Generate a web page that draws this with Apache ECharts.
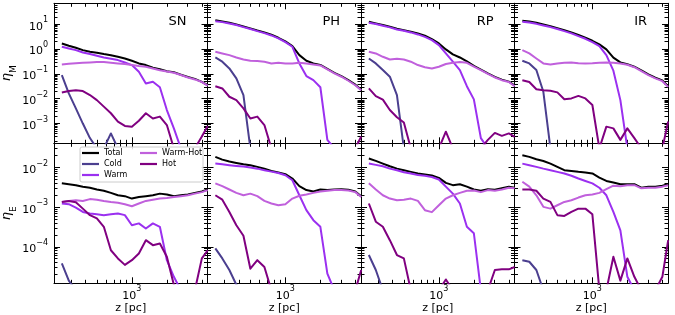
<!DOCTYPE html>
<html><head><meta charset="utf-8">
<script src="https://cdn.jsdelivr.net/npm/echarts@6/dist/echarts.min.js"></script>
<style>html,body{margin:0;padding:0;background:#fff}#c{width:675px;height:315px}</style>
</head><body><div id="c"></div>
<script>
// ---- data ----
const Z = [251, 288, 331, 380, 437, 501, 575, 661, 759, 871, 1000, 1148, 1318, 1514, 1738, 1995, 2291, 2630, 3020, 3467, 3981, 4467];
const PANELS = ['SN', 'PH', 'RP', 'IR'];
const SERIES = ['Total', 'Cold', 'Warm', 'Warm-Hot', 'Hot'];
const COLORS = ['#000000', '#4b3f8f', '#9b30f0', '#c060dc', '#800080'];
const X_MAJOR = [1000];
const X_MINOR = [300, 400, 500, 600, 700, 800, 900, 2000, 3000, 4000];
const YM_MAJOR = [1e-3, 1e-2, 1e-1, 1, 10];
const YE_MAJOR = [1e-4, 1e-3, 1e-2];
const X_RANGE = [215, 4450];
const YM_RANGE = [1.6e-4, 70];
const YE_RANGE = [1.2e-5, 0.041];

// eta_M (top row)
const SN_M_total = [1.69, 1.36, 1.13, 0.91, 0.78, 0.71, 0.63, 0.57, 0.49, 0.42, 0.34, 0.265, 0.227, 0.177, 0.155, 0.128, 0.116, 0.093, 0.075, 0.063, 0.048, 0.035];
const SN_M_cold = [0.09, 0.0164, 0.0041, 0.001, 0.00026, 1e-4, 1e-4, 4e-4, 1e-4, 1e-4, 1e-4, 1e-4, 1e-4, 1e-4, 1e-4, 1e-4, 1e-4, 1e-4, 1e-4, 1e-4, 1e-4, 1e-4];
const SN_M_warm = [1.24, 1.06, 0.91, 0.73, 0.63, 0.54, 0.46, 0.41, 0.36, 0.29, 0.227, 0.122, 0.041, 0.048, 0.029, 0.0035, 0.00064, 1e-4, 1e-4, 1e-4, 1e-4, 1e-4];
const SN_M_warmhot = [0.24, 0.256, 0.27, 0.28, 0.29, 0.30, 0.30, 0.28, 0.265, 0.25, 0.227, 0.207, 0.195, 0.166, 0.14, 0.125, 0.112, 0.090, 0.072, 0.06, 0.047, 0.034];
const SN_M_hot = [0.018, 0.0204, 0.022, 0.0204, 0.0141, 0.0088, 0.0048, 0.0026, 0.0012, 0.0008, 0.00075, 0.0013, 0.0026, 0.0016, 0.0019, 0.00087, 1e-4, 1e-4, 1e-4, 1e-4, 0.0003, 0.0008];

const PH_M_total = [14.7, 13.0, 11.5, 9.8, 8.2, 6.8, 5.6, 4.7, 3.8, 2.86, 2.04, 1.32, 0.57, 0.34, 0.265, 0.23, 0.16, 0.11, 0.081, 0.056, 0.037, 0.023];
const PH_M_cold = [0.46, 0.31, 0.166, 0.066, 0.0141, 1e-4, 1e-4, 1e-4, 1e-4, 1e-4, 1e-4, 1e-4, 1e-4, 1e-4, 1e-4, 1e-4, 1e-4, 1e-4, 1e-4, 1e-4, 1e-4, 1e-4];
const PH_M_warm = [13.3, 12.2, 10.8, 9.3, 7.7, 6.4, 5.3, 4.4, 3.55, 2.7, 1.91, 1.24, 0.265, 0.082, 0.056, 0.029, 0.00022, 1e-4, 1e-4, 1e-4, 1e-4, 1e-4];
const PH_M_warmhot = [0.78, 0.67, 0.57, 0.46, 0.38, 0.34, 0.33, 0.31, 0.265, 0.28, 0.265, 0.265, 0.28, 0.265, 0.24, 0.22, 0.152, 0.105, 0.077, 0.053, 0.035, 0.022];
const PH_M_hot = [0.032, 0.026, 0.012, 0.0088, 0.0041, 0.0016, 0.0019, 0.00087, 1e-4, 1e-4, 1e-4, 1e-4, 1e-4, 1e-4, 1e-4, 1e-4, 1e-4, 1e-4, 1e-4, 1e-4, 1e-4, 0.0003];

const RP_M_total = [12.6, 10.8, 9.3, 7.9, 6.6, 5.8, 5.0, 4.3, 3.45, 2.53, 1.69, 0.97, 0.61, 0.46, 0.32, 0.21, 0.15, 0.105, 0.076, 0.059, 0.049, 0.034];
const RP_M_cold = [0.42, 0.265, 0.143, 0.077, 0.0141, 1e-4, 1e-4, 1e-4, 1e-4, 1e-4, 1e-4, 1e-4, 1e-4, 1e-4, 1e-4, 1e-4, 1e-4, 1e-4, 1e-4, 1e-4, 1e-4, 1e-4];
const RP_M_warm = [11.5, 10.2, 8.7, 7.5, 6.2, 5.5, 4.7, 3.9, 3.1, 2.3, 1.45, 0.67, 0.31, 0.143, 0.032, 0.0094, 0.00026, 1e-4, 1e-4, 1e-4, 1e-4, 1e-4];
const RP_M_warmhot = [0.78, 0.67, 0.49, 0.38, 0.41, 0.38, 0.31, 0.227, 0.186, 0.166, 0.195, 0.25, 0.28, 0.30, 0.28, 0.195, 0.143, 0.10, 0.072, 0.056, 0.047, 0.032];
const RP_M_hot = [0.026, 0.0127, 0.0092, 0.0035, 0.0018, 0.0011, 1e-4, 1e-4, 1e-4, 1e-4, 1e-4, 0.00047, 1e-4, 1e-4, 1e-4, 1e-4, 1e-4, 0.00022, 0.00042, 0.00032, 0.0004, 0.00029];

const IR_M_total = [13.8, 13.0, 11.5, 9.8, 8.4, 7.0, 5.8, 4.7, 3.7, 2.86, 2.16, 1.54, 0.97, 0.45, 0.29, 0.245, 0.195, 0.14, 0.095, 0.07, 0.055, 0.032];
const IR_M_cold = [0.34, 0.265, 0.143, 0.019, 1e-4, 1e-4, 1e-4, 1e-4, 1e-4, 1e-4, 1e-4, 1e-4, 1e-4, 1e-4, 1e-4, 1e-4, 1e-4, 1e-4, 1e-4, 1e-4, 1e-4, 1e-4];
const IR_M_warm = [12.6, 11.8, 10.4, 9.0, 7.7, 6.4, 5.3, 4.3, 3.35, 2.6, 1.91, 1.32, 0.57, 0.135, 0.0088, 1e-4, 1e-4, 1e-4, 1e-4, 1e-4, 1e-4, 1e-4];
const IR_M_warmhot = [0.91, 0.67, 0.42, 0.265, 0.24, 0.265, 0.28, 0.29, 0.27, 0.265, 0.27, 0.28, 0.29, 0.28, 0.265, 0.234, 0.186, 0.13, 0.09, 0.066, 0.051, 0.030];
const IR_M_hot = [0.056, 0.047, 0.024, 0.022, 0.021, 0.018, 0.0095, 0.0103, 0.013, 0.0103, 0.0056, 1e-4, 0.00075, 0.00064, 0.00022, 0.00064, 0.00026, 1e-4, 1e-4, 1e-4, 1e-4, 0.0012];

// eta_E (bottom row)
const SN_E_total = [0.004, 0.0038, 0.0036, 0.0033, 0.0031, 0.0028, 0.0026, 0.0023, 0.002, 0.0019, 0.00165, 0.0018, 0.0019, 0.002, 0.0022, 0.0021, 0.0019, 0.002, 0.0021, 0.0023, 0.0025, 0.0028];
const SN_E_cold = [3.8e-5, 1.4e-5, 8e-6, 8e-6, 8e-6, 8e-6, 8e-6, 8e-6, 8e-6, 8e-6, 8e-6, 8e-6, 8e-6, 8e-6, 8e-6, 8e-6, 8e-6, 8e-6, 8e-6, 8e-6, 8e-6, 8e-6];
const SN_E_warm = [0.00124, 0.00119, 0.00098, 0.00076, 0.00069, 0.00066, 0.00063, 0.00066, 0.00069, 0.00063, 0.00035, 0.00039, 0.00029, 0.00039, 0.00032, 4.6e-5, 1.75e-5, 8e-6, 8e-6, 8e-6, 8e-6, 8e-6];
const SN_E_warmhot = [0.00136, 0.00144, 0.0015, 0.00144, 0.0016, 0.00155, 0.00144, 0.00136, 0.0013, 0.00119, 0.00106, 0.00124, 0.00144, 0.00155, 0.00165, 0.0017, 0.0018, 0.0019, 0.0020, 0.0022, 0.0024, 0.0027];
const SN_E_hot = [0.00136, 0.00144, 0.00133, 0.00092, 0.00063, 0.00052, 0.00032, 8.2e-5, 5.1e-5, 3.5e-5, 4.6e-5, 6.8e-5, 0.000147, 0.00011, 0.000121, 5.6e-5, 1.1e-5, 8e-6, 8e-6, 8e-6, 5.1e-5, 8.2e-5];

const PH_E_total = [0.0186, 0.0159, 0.0142, 0.0131, 0.0121, 0.0115, 0.0104, 0.0093, 0.0082, 0.0075, 0.0068, 0.0053, 0.0034, 0.0027, 0.0025, 0.0028, 0.0027, 0.0028, 0.00285, 0.00275, 0.0025, 0.0019];
const PH_E_cold = [9.1e-5, 5.1e-5, 2.6e-5, 1.1e-5, 8e-6, 8e-6, 8e-6, 8e-6, 8e-6, 8e-6, 8e-6, 8e-6, 8e-6, 8e-6, 8e-6, 8e-6, 8e-6, 8e-6, 8e-6, 8e-6, 8e-6, 8e-6];
const PH_E_warm = [0.0126, 0.0121, 0.0115, 0.011, 0.0106, 0.01, 0.0094, 0.0086, 0.0079, 0.0073, 0.0064, 0.0048, 0.002, 0.00084, 0.00047, 0.00032, 2.1e-5, 8e-6, 8e-6, 8e-6, 8e-6, 8e-6];
const PH_E_warmhot = [0.004, 0.0034, 0.0028, 0.0023, 0.002, 0.0022, 0.0019, 0.00144, 0.00124, 0.00112, 0.00119, 0.00165, 0.00195, 0.0021, 0.0023, 0.0025, 0.0026, 0.0027, 0.0027, 0.00265, 0.0024, 0.0018];
const PH_E_hot = [0.002, 0.00155, 0.00076, 0.00035, 0.00019, 2.8e-5, 4.6e-5, 3.1e-5, 8e-6, 8e-6, 8e-6, 8e-6, 8e-6, 8e-6, 8e-6, 8e-6, 8e-6, 8e-6, 8e-6, 8e-6, 8e-6, 2.6e-5];

const RP_E_total = [0.0169, 0.0148, 0.0126, 0.0108, 0.0094, 0.0086, 0.0078, 0.0071, 0.0067, 0.0063, 0.0055, 0.0041, 0.0036, 0.0038, 0.0033, 0.0028, 0.0026, 0.00285, 0.00275, 0.003, 0.0033, 0.0031];
const RP_E_cold = [6.2e-5, 2.6e-5, 8e-6, 8e-6, 8e-6, 8e-6, 8e-6, 8e-6, 8e-6, 8e-6, 8e-6, 8e-6, 8e-6, 8e-6, 8e-6, 8e-6, 8e-6, 8e-6, 8e-6, 8e-6, 8e-6, 8e-6];
const RP_E_warm = [0.0126, 0.0117, 0.0108, 0.0094, 0.0086, 0.0076, 0.0071, 0.0065, 0.0062, 0.0058, 0.005, 0.0033, 0.0022, 0.00124, 0.00032, 0.00022, 8e-6, 8e-6, 8e-6, 8e-6, 8e-6, 8e-6];
const RP_E_warmhot = [0.004, 0.0028, 0.002, 0.00165, 0.0015, 0.00155, 0.00165, 0.00144, 0.00084, 0.00075, 0.00112, 0.00165, 0.002, 0.0023, 0.0026, 0.00265, 0.0024, 0.0027, 0.0026, 0.0028, 0.0031, 0.003];
const RP_E_hot = [0.00124, 0.00043, 0.00032, 0.000147, 6.2e-5, 5.1e-5, 8e-6, 8e-6, 8e-6, 8e-6, 8e-6, 1.5e-5, 8e-6, 8e-6, 8e-6, 8e-6, 8e-6, 8e-6, 2.6e-5, 2.7e-5, 2.7e-5, 3.1e-5];

const IR_E_total = [0.0205, 0.0186, 0.0162, 0.0147, 0.0126, 0.0104, 0.0086, 0.0082, 0.0078, 0.0075, 0.0071, 0.0056, 0.0046, 0.0042, 0.0038, 0.0038, 0.0038, 0.0031, 0.0033, 0.0033, 0.0035, 0.0038];
const IR_E_cold = [4.6e-5, 4.2e-5, 2.6e-5, 8e-6, 8e-6, 8e-6, 8e-6, 8e-6, 8e-6, 8e-6, 8e-6, 8e-6, 8e-6, 8e-6, 8e-6, 8e-6, 8e-6, 8e-6, 8e-6, 8e-6, 8e-6, 8e-6];
const IR_E_warm = [0.0126, 0.0115, 0.0104, 0.0094, 0.0086, 0.0078, 0.0071, 0.0062, 0.0053, 0.0046, 0.004, 0.0031, 0.002, 0.00076, 0.00026, 1.75e-5, 8e-6, 8e-6, 8e-6, 8e-6, 8e-6, 8e-6];
const IR_E_warmhot = [0.0044, 0.0033, 0.002, 0.00102, 0.00092, 0.00112, 0.00136, 0.0015, 0.00175, 0.002, 0.0021, 0.0023, 0.00285, 0.0035, 0.0034, 0.0036, 0.0036, 0.003, 0.0031, 0.0031, 0.0033, 0.0036];
const IR_E_hot = [0.0028, 0.0028, 0.0026, 0.00165, 0.00136, 0.00063, 0.0006, 0.00076, 0.00092, 0.00092, 0.00066, 8e-6, 8e-6, 5.6e-5, 1.4e-5, 5.1e-5, 1.75e-5, 8e-6, 8e-6, 8e-6, 1.75e-5, 0.000147];

const ROWS = [
  [[SN_M_total, SN_M_cold, SN_M_warm, SN_M_warmhot, SN_M_hot],
   [PH_M_total, PH_M_cold, PH_M_warm, PH_M_warmhot, PH_M_hot],
   [RP_M_total, RP_M_cold, RP_M_warm, RP_M_warmhot, RP_M_hot],
   [IR_M_total, IR_M_cold, IR_M_warm, IR_M_warmhot, IR_M_hot]],
  [[SN_E_total, SN_E_cold, SN_E_warm, SN_E_warmhot, SN_E_hot],
   [PH_E_total, PH_E_cold, PH_E_warm, PH_E_warmhot, PH_E_hot],
   [RP_E_total, RP_E_cold, RP_E_warm, RP_E_warmhot, RP_E_hot],
   [IR_E_total, IR_E_cold, IR_E_warm, IR_E_warmhot, IR_E_hot]]
];

// ---- layout ----
const FONT = 'DejaVu Sans';
const GL = [54, 207.5, 361, 514.5], GW = 153.5;
const GT = [3.3, 143.3], GH = 140;

function minorTicks(range) {
  const out = [];
  for (let d = -6; d <= 2; d++) for (let k = 2; k <= 9; k++) {
    const v = k * Math.pow(10, d);
    if (v > range[0] && v < range[1]) out.push(v);
  }
  return out;
}
function powLabel(v) {
  const e = Math.round(Math.log10(v));
  return '{b|10}{s|' + (e < 0 ? '\u2212' + (-e) : e) + '}';
}
const RICH = {
  b: { fontSize: 11, fontFamily: FONT, color: '#000', lineHeight: 16, verticalAlign: 'bottom' },
  s: { fontSize: 8, fontFamily: FONT, color: '#000', lineHeight: 8, verticalAlign: 'top' }
};

const grids = [], xAxes = [], yAxes = [], series = [], graphics = [];
for (let r = 0; r < 2; r++) {
  const yr = r === 0 ? YM_RANGE : YE_RANGE;
  const yMaj = r === 0 ? YM_MAJOR : YE_MAJOR;
  const yMin = minorTicks(yr);
  for (let c = 0; c < 4; c++) {
    const g = r * 4 + c;
    grids.push({ left: GL[c], top: GT[r], width: GW, height: GH, containLabel: false, outerBoundsMode: 'none' });
    const xi = xAxes.length, yi = yAxes.length;
    [['bottom', true], ['bottom', false], ['top', true], ['top', false]].forEach(([pos, major]) => {
      const isLab = pos === 'bottom' && major && r === 1;
      xAxes.push({
        type: 'log', logBase: 10, gridIndex: g, position: pos, min: X_RANGE[0], max: X_RANGE[1],
        axisLine: { show: major, lineStyle: { color: '#000', width: 1 } },
        axisTick: { show: true, inside: true, length: major ? 6 : 3.5, lineStyle: { color: '#000', width: 1 }, customValues: major ? X_MAJOR : X_MINOR },
        axisLabel: { show: isLab, customValues: X_MAJOR, formatter: powLabel, rich: RICH, margin: 2 },
        splitLine: { show: false }, minorTick: { show: false }, minorSplitLine: { show: false },
        name: isLab ? 'z [pc]' : '', nameLocation: 'middle', nameGap: 19,
        nameTextStyle: { fontSize: 11, fontFamily: FONT, color: '#000' }
      });
    });
    [['left', true], ['left', false], ['right', true], ['right', false]].forEach(([pos, major]) => {
      const isLab = pos === 'left' && major && c === 0;
      yAxes.push({
        type: 'log', logBase: 10, gridIndex: g, position: pos, min: yr[0], max: yr[1],
        axisLine: { show: major, lineStyle: { color: '#000', width: 1 } },
        axisTick: { show: true, inside: true, length: major ? 6 : 3.5, lineStyle: { color: '#000', width: 1 }, customValues: major ? yMaj : yMin },
        axisLabel: { show: isLab, customValues: yMaj, formatter: powLabel, rich: RICH, margin: 6 },
        splitLine: { show: false }, minorTick: { show: false }, minorSplitLine: { show: false },
        name: isLab ? (r === 0 ? '{e|\u03b7}{m|M}' : '{e|\u03b7}{m|E}') : '',
        nameLocation: 'middle', nameGap: 31, nameRotate: 90,
        nameTextStyle: { rich: {
          e: { fontSize: 13, fontFamily: FONT, fontStyle: 'italic', color: '#000', lineHeight: 14, verticalAlign: 'top' },
          m: { fontSize: 9, fontFamily: FONT, color: '#000', lineHeight: 18, verticalAlign: 'bottom' } } }
      });
    });
    const vals = ROWS[r][c];
    SERIES.forEach((nm, k) => {
      series.push({
        type: 'line', name: nm, xAxisIndex: xi, yAxisIndex: yi,
        data: Z.map((z, i) => [z, vals[k][i]]),
        symbol: 'none', showSymbol: false, clip: true, silent: true,
        lineStyle: { width: 2, color: COLORS[k], join: 'round' },
        itemStyle: { color: COLORS[k] }
      });
    });
    if (r === 0) {
      graphics.push({ type: 'text', x: GL[c] + GW - 21, y: 22, z: 10,
        style: { text: PANELS[c], font: '13px "DejaVu Sans"', fill: '#000', textAlign: 'right', textVerticalAlign: 'middle' } });
    }
  }
}
graphics.push({ type: 'rect', z: 3, shape: { x: 80, y: 147, width: 123, height: 35, r: 2 },
  style: { fill: 'rgba(255,255,255,0.85)', stroke: '#cccccc', lineWidth: 1 } });

const legendBase = {
  orient: 'vertical', itemWidth: 17, itemHeight: 8, itemGap: 3, padding: 0, z: 5,
  icon: 'path://M0,0H17V2.2H0Z', symbolKeepAspect: true,
  textStyle: { fontSize: 8, fontFamily: FONT, color: '#000' }, selectedMode: false
};
const chart = echarts.init(document.getElementById('c'), null, { renderer: 'canvas' });
chart.setOption({
  animation: false,
  backgroundColor: '#fff',
  grid: grids, xAxis: xAxes, yAxis: yAxes, series: series, graphic: graphics,
  legend: [
    Object.assign({}, legendBase, { left: 82, top: 149, data: ['Total', 'Cold', 'Warm'] }),
    Object.assign({}, legendBase, { left: 140, top: 149, data: ['Warm-Hot', 'Hot'] })
  ]
});
</script></body></html>
